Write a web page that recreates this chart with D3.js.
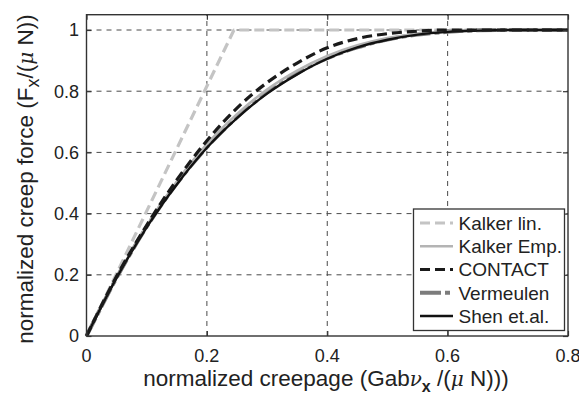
<!DOCTYPE html>
<html>
<head>
<meta charset="utf-8">
<script src="https://cdn.jsdelivr.net/npm/d3@7"></script>
<style>
  html, body { margin: 0; padding: 0; background: #fff; }
  svg { display: block; font-family: "Liberation Sans", Arial, Helvetica, sans-serif; }
</style>
</head>
<body>
<svg id="chart" width="579" height="395"></svg>
<script>
// Normalized creepage values at which the curves are sampled
const creepage = [0, 0.05, 0.1, 0.15, 0.2, 0.25, 0.3, 0.35, 0.4, 0.45, 0.5, 0.55, 0.6, 0.65, 0.7, 0.75, 0.8];

// Normalized creep force for each model
const kalkerLinX = [0, 0.245, 0.8];
const kalkerLinY = [0, 1, 1];
const kalkerEmp  = [0, 0.19, 0.36, 0.505, 0.627, 0.725, 0.805, 0.867, 0.915, 0.95, 0.974, 0.988, 0.996, 0.999, 1, 1, 1];
const contact    = [0, 0.195, 0.362, 0.51, 0.638, 0.745, 0.828, 0.892, 0.942, 0.972, 0.988, 0.996, 1, 1, 1, 1, 1];
const vermeulen  = [0, 0.19, 0.357, 0.498, 0.617, 0.715, 0.796, 0.859, 0.908, 0.943, 0.969, 0.985, 0.994, 0.999, 1, 1, 1];
const shen       = [0, 0.19, 0.355, 0.495, 0.615, 0.712, 0.792, 0.855, 0.906, 0.943, 0.968, 0.985, 0.994, 0.998, 1, 1, 1];

// Axis ticks
const xTicks = [0, 0.2, 0.4, 0.6, 0.8];
const xTickLabels = ["0", "0.2", "0.4", "0.6", "0.8"];
const yTicks = [0, 0.2, 0.4, 0.6, 0.8, 1];
const yTickLabels = ["0", "0.2", "0.4", "0.6", "0.8", "1"];

// Legend entries, in drawing order of the legend
const legendNames = ["Kalker lin.", "Kalker Emp.", "CONTACT", "Vermeulen", "Shen et.al."];

const styles = {
  "Kalker lin.": { color: "#c4c4c4", width: 3.2, dash: "10,5" },
  "Kalker Emp.": { color: "#b4b4b4", width: 2.6, dash: null },
  "CONTACT":     { color: "#1a1a1a", width: 3.2, dash: "10,5" },
  "Vermeulen":   { color: "#7c7c7c", width: 4,   dash: "20,4,5,4" },
  "Shen et.al.": { color: "#111111", width: 2.4, dash: null }
};

const svg = d3.select("#chart");
const plotL = 86.5, plotR = 568, plotT = 14.7, plotB = 336;

const x = d3.scaleLinear().domain([0, 0.8]).range([plotL, plotR]);
const y = d3.scaleLinear().domain([0, 1.05]).range([plotB, plotT]);

// Grid
const grid = svg.append("g").attr("stroke", "#4a4a4a").attr("stroke-width", 1).attr("stroke-dasharray", "5,5");
xTicks.filter(t => t > 0 && t < 0.8).forEach(t => {
  grid.append("line").attr("x1", x(t)).attr("x2", x(t)).attr("y1", plotB).attr("y2", plotT);
});
yTicks.filter(t => t > 0).forEach(t => {
  grid.append("line").attr("x1", plotL).attr("x2", plotR).attr("y1", y(t)).attr("y2", y(t));
});

// Series
const series = [
  { name: "Kalker lin.", pts: kalkerLinX.map((v, i) => [v, kalkerLinY[i]]), curve: d3.curveLinear },
  { name: "Vermeulen",   pts: creepage.map((v, i) => [v, vermeulen[i]]), curve: d3.curveMonotoneX },
  { name: "Kalker Emp.", pts: creepage.map((v, i) => [v, kalkerEmp[i]]), curve: d3.curveMonotoneX },
  { name: "Shen et.al.", pts: creepage.map((v, i) => [v, shen[i]]), curve: d3.curveMonotoneX },
  { name: "CONTACT",     pts: creepage.map((v, i) => [v, contact[i]]), curve: d3.curveMonotoneX }
];

const plot = svg.append("g");
series.forEach(s => {
  const st = styles[s.name];
  const line = d3.line().x(d => x(d[0])).y(d => y(d[1])).curve(s.curve);
  plot.append("path")
    .attr("d", line(s.pts))
    .attr("fill", "none")
    .attr("stroke", st.color)
    .attr("stroke-width", st.width)
    .attr("stroke-dasharray", st.dash)
    .attr("stroke-linejoin", "round");
});

// Axes with inward ticks on all four sides
const tickLen = 5;
const axisColor = "#333";
const xAxisB = d3.axisBottom(x).tickValues(xTicks).tickSize(-tickLen).tickFormat("");
const xAxisT = d3.axisTop(x).tickValues(xTicks).tickSize(-tickLen).tickFormat("");
const yAxisL = d3.axisLeft(y).tickValues(yTicks).tickSize(-tickLen).tickFormat("");
const yAxisR = d3.axisRight(y).tickValues(yTicks).tickSize(-tickLen).tickFormat("");
[
  [xAxisB, `translate(0,${plotB})`],
  [xAxisT, `translate(0,${plotT})`],
  [yAxisL, `translate(${plotL},0)`],
  [yAxisR, `translate(${plotR},0)`]
].forEach(([ax, tr]) => {
  const g = svg.append("g").attr("transform", tr).call(ax);
  g.select(".domain").remove();
  g.selectAll(".tick line").attr("stroke", axisColor).attr("stroke-width", 1.2);
});

svg.append("rect")
  .attr("x", plotL).attr("y", plotT)
  .attr("width", plotR - plotL).attr("height", plotB - plotT)
  .attr("fill", "none").attr("stroke", axisColor).attr("stroke-width", 1.4);

// Tick labels
svg.append("g").selectAll("text").data(xTicks).join("text")
  .attr("x", d => x(d)).attr("y", 362)
  .attr("text-anchor", "middle")
  .attr("font-size", 18).attr("fill", "#222")
  .text((d, i) => xTickLabels[i]);

svg.append("g").selectAll("text").data(yTicks).join("text")
  .attr("x", 79).attr("y", d => y(d))
  .attr("dy", "0.35em")
  .attr("text-anchor", "end")
  .attr("font-size", 18).attr("fill", "#222")
  .text((d, i) => yTickLabels[i]);

// Axis titles
const xt = svg.append("text")
  .attr("x", 326).attr("y", 386)
  .attr("text-anchor", "middle")
  .attr("font-size", 22.5).attr("fill", "#222");
xt.append("tspan").text("normalized creepage (Gab");
xt.append("tspan").attr("font-style", "italic").attr("font-family", "DejaVu Serif, serif").attr("font-size", 20).text("ν");
xt.append("tspan").attr("dy", 6).attr("font-size", 16).attr("font-weight", "bold").text("x");
xt.append("tspan").attr("dy", -6).text(" /(");
xt.append("tspan").attr("font-style", "italic").attr("font-family", "DejaVu Serif, serif").attr("font-size", 20).text("μ");
xt.append("tspan").text(" N)))");

const yt = svg.append("text")
  .attr("transform", "translate(33,179) rotate(-90)")
  .attr("text-anchor", "middle")
  .attr("font-size", 22.5).attr("fill", "#222");
yt.append("tspan").text("normalized creep force (F");
yt.append("tspan").attr("dy", 6).attr("font-size", 18).text("x");
yt.append("tspan").attr("dy", -6).text("/(");
yt.append("tspan").attr("font-style", "italic").attr("font-family", "DejaVu Serif, serif").attr("font-size", 20).text("μ");
yt.append("tspan").text(" N))");

// Legend
const lg = svg.append("g");
lg.append("rect")
  .attr("x", 413.5).attr("y", 209).attr("width", 151).attr("height", 121.5)
  .attr("fill", "#fff").attr("stroke", "#333").attr("stroke-width", 1.3);
const rowY = d3.scalePoint().domain(legendNames).range([223, 316]);
legendNames.forEach(name => {
  const st = styles[name];
  const yy = rowY(name);
  lg.append("line")
    .attr("x1", 420).attr("x2", 453).attr("y1", yy).attr("y2", yy)
    .attr("stroke", st.color).attr("stroke-width", st.width)
    .attr("stroke-dasharray", name === "Vermeulen" ? "21,4,5,4" : st.dash);
  lg.append("text")
    .attr("x", 458.5).attr("y", yy).attr("dy", "0.36em")
    .attr("font-size", 19).attr("fill", "#222")
    .text(name);
});
</script>
</body>
</html>
